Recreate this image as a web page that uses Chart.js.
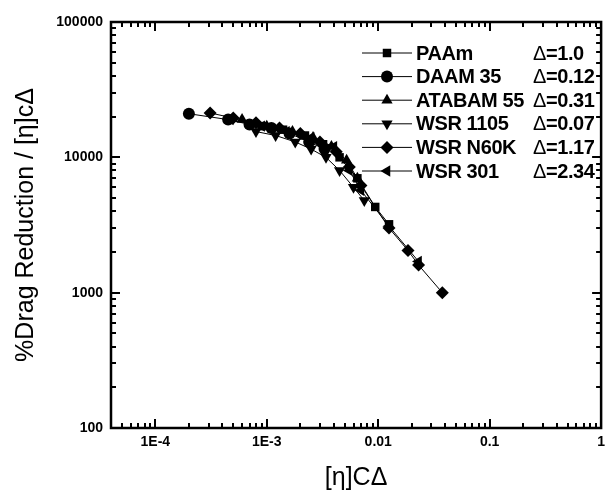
<!DOCTYPE html>
<html><head><meta charset="utf-8">
<script src="https://cdn.jsdelivr.net/npm/chart.js@4.4.1/dist/chart.umd.min.js"></script>
<style>html,body{margin:0;padding:0;background:#fff;}#wrap{width:611px;height:491px;}</style>
</head><body><div id="wrap"><canvas id="c" width="611" height="491"></canvas></div>
<script>
const seriesNames = ['PAAm', 'DAAM 35', 'ATABAM 55', 'WSR 1105', 'WSR N60K', 'WSR 301'];
const deltaValues = ['=1.0', '=0.12', '=0.31', '=0.07', '=1.17', '=2.34'];
const xTickValues = [1e-4, 1e-3, 0.01, 0.1, 1];
const xTickLabels = ['1E-4', '1E-3', '0.01', '0.1', '1'];
const yTickValues = [100, 1000, 10000, 100000];
const yTickLabels = ['100', '1000', '10000', '100000'];

const paamX = [0.0009, 0.0014, 0.0022, 0.0032, 0.0045, 0.0065, 0.0094, 0.0125];
const paamY = [17000, 16000, 14500, 12500, 10000, 7000, 4300, 3200];
const daamX = [0.0002, 0.00045, 0.0007, 0.0011, 0.0016, 0.0024, 0.0033];
const daamY = [21000, 19000, 17500, 16500, 15000, 13000, 11500];
const atabamX = [0.0006, 0.001, 0.0017, 0.0026, 0.0038, 0.0052, 0.0065];
const atabamY = [19000, 17000, 15500, 14000, 12000, 9500, 7000];
const wsr1105X = [0.0008, 0.0012, 0.0018, 0.0025, 0.0034, 0.0045, 0.006, 0.0075];
const wsr1105Y = [15500, 14500, 13000, 11500, 10000, 8000, 6000, 4800];
const wsrN60kX = [0.00031, 0.0005, 0.0008, 0.0013, 0.002, 0.003, 0.0042, 0.0055, 0.007, 0.0125, 0.0185, 0.023, 0.0376];
const wsrN60kY = [21300, 19500, 18000, 16500, 15000, 13000, 11000, 8500, 6200, 3000, 2050, 1600, 1000];
const wsr301X = [0.00047, 0.0009, 0.0015, 0.0025, 0.004, 0.0055, 0.007, 0.0125, 0.023];
const wsr301Y = [19000, 17000, 15500, 14000, 12000, 8000, 5700, 3100, 1700];

const seriesX = [paamX, daamX, atabamX, wsr1105X, wsrN60kX, wsr301X];
const seriesY = [paamY, daamY, atabamY, wsr1105Y, wsrN60kY, wsr301Y];
const markerStyles = ['rect', 'circle', 'triangle', 'triangle', 'rectRot', 'triangle'];
const markerRot = [0, 0, 0, 180, 0, 270];
const markerRadius = [6, 6, 6.5, 6.5, 6.5, 6.5];

const FONT = '"Liberation Sans", Arial, Helvetica, sans-serif';

const datasets = seriesNames.map((name, i) => ({
  label: name,
  data: seriesX[i].map((x, j) => ({x: x, y: seriesY[i][j]})),
  borderColor: '#000', backgroundColor: '#000', borderWidth: 1,
  pointStyle: markerStyles[i], rotation: markerRot[i], pointRadius: markerRadius[i],
  pointBorderWidth: 0, pointBackgroundColor: '#000', tension: 0, showLine: true
}));

function minorValues(min, max) {
  const out = [];
  for (let d = Math.floor(Math.log10(min)); d <= Math.ceil(Math.log10(max)); d++) {
    for (let k = 1; k <= 9; k++) {
      const v = k * Math.pow(10, d);
      if (v >= min * 0.9999 && v <= max * 1.0001) out.push({v: v, major: k === 1});
    }
  }
  return out;
}

const framePlugin = {
  id: 'frame',
  afterDatasetsDraw(chart) {
    const {ctx, chartArea: a, scales} = chart;
    ctx.save();
    ctx.strokeStyle = '#000';
    ctx.lineWidth = 2.5;
    ctx.strokeRect(a.left, a.top, a.right - a.left, a.bottom - a.top);
    ctx.lineWidth = 2;
    const xs = scales.x, ys = scales.y;
    minorValues(xs.min, xs.max).forEach(t => {
      const px = Math.round(xs.getPixelForValue(t.v));
      const L = t.major ? 9 : 5;
      ctx.beginPath();
      ctx.moveTo(px, a.bottom); ctx.lineTo(px, a.bottom - L);
      ctx.moveTo(px, a.top); ctx.lineTo(px, a.top + L);
      ctx.stroke();
    });
    minorValues(ys.min, ys.max).forEach(t => {
      const py = Math.round(ys.getPixelForValue(t.v));
      const L = t.major ? 9 : 5;
      ctx.beginPath();
      ctx.moveTo(a.left, py); ctx.lineTo(a.left + L, py);
      ctx.moveTo(a.right, py); ctx.lineTo(a.right - L, py);
      ctx.stroke();
    });
    ctx.restore();
  },
  afterDraw(chart) {
    const ctx = chart.ctx;
    ctx.save();
    const x0 = 362, x1 = 412, xm = 387, xt = 416, xd = 533;
    seriesNames.forEach((name, i) => {
      const y = 53 + i * 23.6;
      ctx.strokeStyle = '#000'; ctx.lineWidth = 1;
      ctx.beginPath(); ctx.moveTo(x0, y); ctx.lineTo(x1, y); ctx.stroke();
      ctx.fillStyle = '#000';
      Chart.helpers.drawPoint(ctx, {pointStyle: markerStyles[i], rotation: markerRot[i], radius: markerRadius[i], borderWidth: 0}, xm, y);
      ctx.fillStyle = '#000';
      ctx.textBaseline = 'middle';
      ctx.textAlign = 'left';
      ctx.letterSpacing = '-0.4px';
      ctx.font = 'bold 20px ' + FONT;
      ctx.fillText(name, xt, y + 1);
      ctx.font = '20px ' + FONT;
      ctx.fillText('\u0394', xd, y + 1);
      const w = ctx.measureText('\u0394').width;
      ctx.font = 'bold 20px ' + FONT;
      ctx.fillText(deltaValues[i], xd + w, y + 1);
    });
    ctx.restore();
  }
};

new Chart(document.getElementById('c'), {
  type: 'scatter',
  data: {datasets: datasets},
  options: {
    responsive: false, devicePixelRatio: 1, animation: false,
    layout: {padding: {top: 22, right: 2, left: 0, bottom: 0}},
    plugins: {legend: {display: false}, tooltip: {enabled: false}},
    scales: {
      x: {
        type: 'logarithmic', min: 4e-5, max: 1,
        grid: {display: false, drawTicks: false}, border: {display: false},
        afterBuildTicks: s => { s.ticks = xTickValues.map(v => ({value: v})); },
        afterFit: s => { s.height = 63; },
        ticks: {
          color: '#000', font: {family: FONT, size: 14, weight: 'bold'}, padding: 6, maxRotation: 0, autoSkip: false,
          callback: (v) => { const i = xTickValues.findIndex(t => Math.abs(t - v) / t < 1e-6); return i >= 0 ? xTickLabels[i] : ''; }
        },
        title: {display: true, text: '[\u03b7]C\u0394', color: '#000', font: {family: FONT, size: 25, lineHeight: 1}, padding: {top: 0, bottom: 0}}
      },
      y: {
        type: 'logarithmic', min: 100, max: 100000,
        grid: {display: false, drawTicks: false}, border: {display: false},
        afterBuildTicks: s => { s.ticks = yTickValues.map(v => ({value: v})); },
        afterFit: s => { s.width = 111; },
        ticks: {
          color: '#000', font: {family: FONT, size: 14, weight: 'bold'}, padding: 8, autoSkip: false,
          callback: (v) => { const i = yTickValues.findIndex(t => Math.abs(t - v) / t < 1e-6); return i >= 0 ? yTickLabels[i] : ''; }
        },
        title: {display: true, text: '%Drag Reduction / [\u03b7]c\u0394', color: '#000', font: {family: FONT, size: 25, lineHeight: 1}, padding: {top: 14, bottom: 0}}
      }
    }
  },
  plugins: [framePlugin]
});
</script></body></html>
